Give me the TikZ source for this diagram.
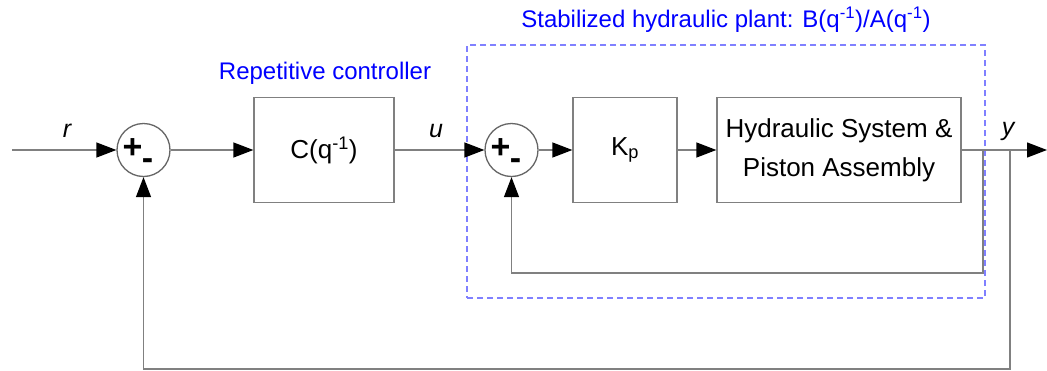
\documentclass[tikz,border=0pt]{standalone}
\usepackage{fontspec}
\setmainfont{Liberation Sans}
\usetikzlibrary{arrows.meta,positioning}
\begin{document}
\begin{tikzpicture}[x=1pt,y=-1pt,
  line width=1.3pt,
  wire/.style={draw=black!50},
  arr/.style={wire,-{Triangle[length=20pt,width=15pt,color=black]}},
  blk/.style={draw=black!50,rectangle,minimum height=105pt,align=center,inner sep=0pt,
    font=\fontsize{26}{39}\selectfont},
  sumnode/.style={draw=black!60,circle,minimum size=53pt,inner sep=0pt},
  sgn/.style={font=\fontsize{34}{34}\selectfont\bfseries},
  lbl/.style={font=\fontsize{25}{28}\selectfont\itshape},
  ttl/.style={text=blue,font=\fontsize{24}{28}\selectfont}]
\useasboundingbox (0,0) rectangle (1047,370);
% dashed plant box
\node[draw=blue!50,dash pattern=on 6pt off 4pt,line width=1.1pt,minimum width=518pt,minimum height=253pt,inner sep=0pt] (plant) at (726,171.5) {};
\node[ttl] (ttl1) at (726,20) {Stabilized hydraulic plant: B(q\textsuperscript{-1})/A(q\textsuperscript{-1})};
\node[ttl] (ttl2) at (325,73) {Repetitive controller};
% nodes
\coordinate (in) at (12,150);
\node[sumnode] (s1) at (143.5,150) {};
\node[sgn] (p1) at ([shift={(-11,-1)}]s1.center) {+};
\node[sgn] (m1) at ([shift={(4,14)}]s1.center) {-};
\node[blk,minimum width=140pt] (C) at (324,150) {C(q\textsuperscript{-1})};
\node[sumnode] (s2) at (511.5,150) {};
\node[sgn] (p2) at ([shift={(-11,-1)}]s2.center) {+};
\node[sgn] (m2) at ([shift={(4,14)}]s2.center) {-};
\node[blk,minimum width=104pt] (K) at (625,150) {K\textsubscript{p}};
\node[blk,minimum width=244pt] (H) at (839,150) {Hydraulic System \&\\Piston Assembly};
\coordinate (out) at (1047,150);
\coordinate (b1) at (983,150);
\coordinate (b2) at (1010,150);
\coordinate (f1) at (983,273);
\coordinate (f2) at (1010,369);
% labels
\node[lbl] (r) at (67,131) {r};
\node[lbl] (u) at (436,131) {u};
\node[lbl] (y) at (1008,131) {y};
% connectors
\draw[arr] (in) -- (s1.west);
\draw[arr] (s1.east) -- (C.west);
\draw[arr] (C.east) -- (s2.west);
\draw[arr] (s2.east) -- (K.west);
\draw[arr] (K.east) -- (H.west);
\draw[arr] (H.east) -- (out);
\draw[arr] (b1) -- (f1) -| (s2.south);
\draw[arr] (b2) -- (f2) -| (s1.south);
\end{tikzpicture}
\end{document}
